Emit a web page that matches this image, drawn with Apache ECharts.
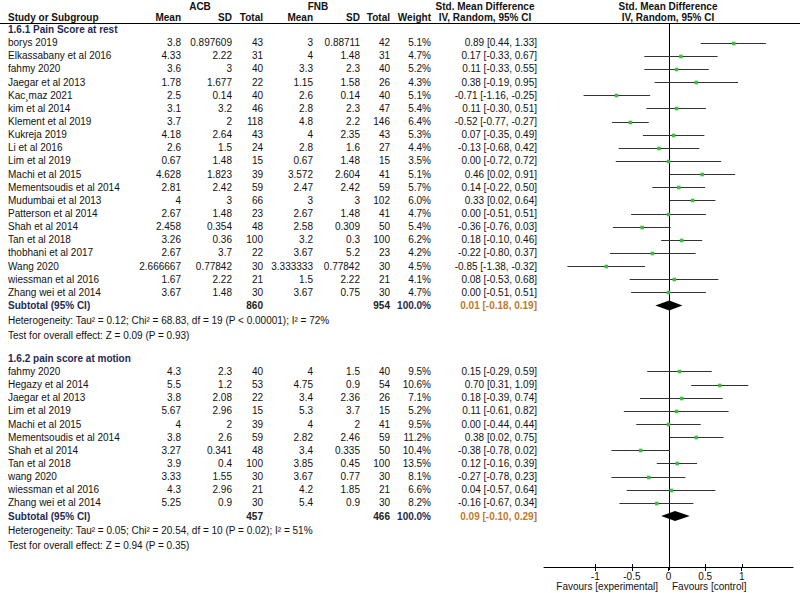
<!DOCTYPE html>
<html><head><meta charset="utf-8">
<script src="https://cdn.jsdelivr.net/npm/echarts@6/dist/echarts.min.js"></script>
<style>html,body{margin:0;padding:0;background:#fff}#c{width:800px;height:593px}</style>
</head><body><div id="c"></div>
<script>
// ---------- DATA ----------
var studies1 = ['borys 2019','Elkassabany et al 2016','fahmy 2020','Jaegar et al 2013','Kac\u00b8maz 2021','kim et al 2014','Klement et al 2019','Kukreja 2019','Li et al 2016','Lim et al 2019','Machi et al 2015','Mementsoudis et al 2014','Mudumbai et al 2013','Patterson et al 2014','Shah et al 2014','Tan et al 2018','thobhani et al 2017','Wang 2020','wiessman et al 2016','Zhang wei et al 2014'];
var acbMean1 = [3.8,4.33,3.6,1.78,2.5,3.1,3.7,4.18,2.6,0.67,4.628,2.81,4,2.67,2.458,3.26,2.67,2.666667,1.67,3.67];
var acbSD1 = [0.897609,2.22,3,1.677,0.14,3.2,2,2.64,1.5,1.48,1.823,2.42,3,1.48,0.354,0.36,3.7,0.77842,2.22,1.48];
var acbN1 = [43,31,40,22,40,46,118,43,24,15,39,59,66,23,48,100,22,30,21,30];
var fnbMean1 = [3,4,3.3,1.15,2.6,2.8,4.8,4,2.8,0.67,3.572,2.47,3,2.67,2.58,3.2,3.67,3.333333,1.5,3.67];
var fnbSD1 = [0.88711,1.48,2.3,1.58,0.14,2.3,2.2,2.35,1.6,1.48,2.604,2.42,3,1.48,0.309,0.3,5.2,0.77842,2.22,0.75];
var fnbN1 = [42,31,40,26,40,47,146,43,27,15,41,59,102,41,50,100,23,30,21,30];
var weight1 = [5.1,4.7,5.2,4.3,5.1,5.4,6.4,5.3,4.4,3.5,5.1,5.7,6.0,4.7,5.4,6.2,4.2,4.5,4.1,4.7];
var smd1 = [0.89,0.17,0.11,0.38,-0.71,0.11,-0.52,0.07,-0.13,0.00,0.46,0.14,0.33,0.00,-0.36,0.18,-0.22,-0.85,0.08,0.00];
var lo1 = [0.44,-0.33,-0.33,-0.19,-1.16,-0.30,-0.77,-0.35,-0.68,-0.72,0.02,-0.22,0.02,-0.51,-0.76,-0.10,-0.80,-1.38,-0.53,-0.51];
var hi1 = [1.33,0.67,0.55,0.95,-0.25,0.51,-0.27,0.49,0.42,0.72,0.91,0.50,0.64,0.51,0.03,0.46,0.37,-0.32,0.68,0.51];
var sub1 = {n1:860, n2:954, smd:0.01, lo:-0.18, hi:0.19};
var het1 = 'Heterogeneity: Tau\u00b2 = 0.12; Chi\u00b2 = 68.83, df = 19 (P < 0.00001); I\u00b2 = 72%';
var test1 = 'Test for overall effect: Z = 0.09 (P = 0.93)';

var studies2 = ['fahmy 2020','Hegazy et al 2014','Jaegar et al 2013','Lim et al 2019','Machi et al 2015','Mementsoudis et al 2014','Shah et al 2014','Tan et al 2018','wang 2020','wiessman et al 2016','Zhang wei et al 2014'];
var acbMean2 = [4.3,5.5,3.8,5.67,4,3.8,3.27,3.9,3.33,4.3,5.25];
var acbSD2 = [2.3,1.2,2.08,2.96,2,2.6,0.341,0.4,1.55,2.96,0.9];
var acbN2 = [40,53,22,15,39,59,48,100,30,21,30];
var fnbMean2 = [4,4.75,3.4,5.3,4,2.82,3.4,3.85,3.67,4.2,5.4];
var fnbSD2 = [1.5,0.9,2.36,3.7,2,2.46,0.335,0.45,0.77,1.85,0.9];
var fnbN2 = [40,54,26,15,41,59,50,100,30,21,30];
var weight2 = [9.5,10.6,7.1,5.2,9.5,11.2,10.4,13.5,8.1,6.6,8.2];
var smd2 = [0.15,0.70,0.18,0.11,0.00,0.38,-0.38,0.12,-0.27,0.04,-0.16];
var lo2 = [-0.29,0.31,-0.39,-0.61,-0.44,0.02,-0.78,-0.16,-0.78,-0.57,-0.67];
var hi2 = [0.59,1.09,0.74,0.82,0.44,0.75,0.02,0.39,0.23,0.64,0.34];
var sub2 = {n1:457, n2:466, smd:0.09, lo:-0.10, hi:0.29};
var het2 = 'Heterogeneity: Tau\u00b2 = 0.05; Chi\u00b2 = 20.54, df = 10 (P = 0.02); I\u00b2 = 51%';
var test2 = 'Test for overall effect: Z = 0.94 (P = 0.35)';

var section1 = '1.6.1 Pain Score at rest';
var section2 = '1.6.2 pain score at motion';
var xTicks = [-1,-0.5,0,0.5,1];
var favLeft = 'Favours [experimental]';
var favRight = 'Favours [control]';

// ---------- LAYOUT ----------
var ROW = 13.14, TOP = 23, AXB = 26, H = 593;
var tblMin = -TOP/ROW, tblMax = tblMin + H/ROW, plotMax = (H-TOP-AXB)/ROW;
var NAVY = '#1f2a55', ORANGE = '#c0782a', FONT = '"Liberation Sans", Arial, sans-serif';
var cols = {name:8, m1:181, sd1:232, n1:263, m2:313, sd2:360, n2:390, w:431, ci:537};

function ci(s,l,h){return s.toFixed(2)+' ['+l.toFixed(2)+', '+h.toFixed(2)+']';}

var texts = [];
function T(x,r,t,align,bold,color){texts.push({x:x,r:r,t:String(t),a:align||'right',b:!!bold,c:color||'#111'});}

// headers
var rH1 = (6.5-TOP)/ROW, rH2 = (17-TOP)/ROW;
T(200,rH1,'ACB','center',true); T(318,rH1,'FNB','center',true);
T(485,rH1,'Std. Mean Difference','center',true); T(668,rH1,'Std. Mean Difference','center',true);
T(cols.name,rH2,'Study or Subgroup','left',true);
T(cols.m1,rH2,'Mean','right',true); T(cols.sd1,rH2,'SD','right',true); T(cols.n1,rH2,'Total','right',true);
T(cols.m2,rH2,'Mean','right',true); T(cols.sd2,rH2,'SD','right',true); T(cols.n2,rH2,'Total','right',true);
T(cols.w,rH2,'Weight','right',true);
T(485,rH2,'IV, Random, 95% CI','center',true); T(668,rH2,'IV, Random, 95% CI','center',true);

var forest = []; // [smd, lo, hi, row]
var diamonds = [];
function section(start, title, st, am, as, an, fm, fs, fn, w, s, l, h, sub, het, test){
  T(cols.name, start, title, 'left', true, NAVY);
  for (var i=0;i<st.length;i++){
    var r = start + 0.97 + i;
    T(cols.name,r,st[i],'left'); T(cols.m1,r,am[i]); T(cols.sd1,r,as[i]); T(cols.n1,r,an[i]);
    T(cols.m2,r,fm[i]); T(cols.sd2,r,fs[i]); T(cols.n2,r,fn[i]);
    T(cols.w,r,w[i].toFixed(1)+'%'); T(cols.ci,r,ci(s[i],l[i],h[i]));
    forest.push([s[i],l[i],h[i],r]);
  }
  var rs = start + 0.97 + st.length;
  T(cols.name,rs,'Subtotal (95% CI)','left',true,NAVY);
  T(cols.n1,rs,sub.n1,'right',true,'#222'); T(cols.n2,rs,sub.n2,'right',true,'#222');
  T(cols.w,rs,'100.0%','right',true,NAVY); T(cols.ci,rs,ci(sub.smd,sub.lo,sub.hi),'right',true,ORANGE);
  diamonds.push([sub.smd,sub.lo,sub.hi,rs]);
  T(cols.name,rs+1.14,het,'left'); T(cols.name,rs+2.26,test,'left');
}
section(0.53, section1, studies1, acbMean1, acbSD1, acbN1, fnbMean1, fnbSD1, fnbN1, weight1, smd1, lo1, hi1, sub1, het1, test1);
section(25.55, section2, studies2, acbMean2, acbSD2, acbN2, fnbMean2, fnbSD2, fnbN2, weight2, smd2, lo2, hi2, sub2, het2, test2);
var rFav = (586.5-TOP)/ROW;
T(658,rFav,favLeft,'right'); T(672,rFav,favRight,'left');

var chart = echarts.init(document.getElementById('c'), null, {renderer:'svg'});
chart.setOption({
  animation:false,
  backgroundColor:'#fff',
  grid:[
    {left:544, right:7, top:TOP, bottom:AXB},
    {left:0, right:0, top:0, bottom:0}
  ],
  xAxis:[
    {gridIndex:0, type:'value', min:-1.7, max:1.7, position:'bottom',
     axisLine:{onZero:false, lineStyle:{color:'#000', width:1}},
     axisTick:{customValues:xTicks, length:4, lineStyle:{color:'#000'}},
     axisLabel:{customValues:xTicks, margin:4, color:'#111', fontSize:10, fontFamily:FONT, formatter:function(v){return String(v);}},
     splitLine:{show:false}},
    {gridIndex:1, type:'value', min:0, max:800, show:false}
  ],
  yAxis:[
    {gridIndex:0, type:'value', min:0, max:plotMax, inverse:true, show:false},
    {gridIndex:1, type:'value', min:tblMin, max:tblMax, inverse:true, show:false}
  ],
  series:[
    {type:'custom', xAxisIndex:1, yAxisIndex:1, silent:true, data:[[0,0]],
     renderItem:function(p,api){var a=api.coord([0,0]),b=api.coord([800,0]);
       return {type:'line', shape:{x1:a[0],y1:a[1]+0.5,x2:b[0],y2:b[1]+0.5}, style:{stroke:'#000',lineWidth:1}};}},
    {type:'custom', xAxisIndex:0, yAxisIndex:0, silent:true, data:[[0,0]],
     renderItem:function(p,api){var a=api.coord([0,0]),b=api.coord([0,plotMax]);
       var x=Math.round(a[0])+0.5;
       return {type:'line', shape:{x1:x,y1:a[1],x2:x,y2:b[1]+3}, style:{stroke:'#000',lineWidth:1}};}},
    // ticks crossing above the axis line (as in the reference)
    {type:'custom', xAxisIndex:0, yAxisIndex:0, silent:true, data:xTicks.map(function(v){return [v,plotMax];}),
     renderItem:function(p,api){var a=api.coord([api.value(0),api.value(1)]);
       var x=Math.round(a[0])+0.5;
       return {type:'line', shape:{x1:x,y1:a[1]-3,x2:x,y2:a[1]}, style:{stroke:'#000',lineWidth:1}};}},
    {type:'custom', xAxisIndex:0, yAxisIndex:0, silent:true, data:forest,
     renderItem:function(p,api){
       var c=api.coord([api.value(0),api.value(3)]), a=api.coord([api.value(1),api.value(3)]), b=api.coord([api.value(2),api.value(3)]);
       var y=Math.round(c[1])+0.5;
       return {type:'group', children:[
         {type:'line', shape:{x1:a[0],y1:y,x2:b[0],y2:y}, style:{stroke:'#333',lineWidth:1}},
         {type:'rect', shape:{x:c[0]-1.8,y:y-1.8,width:3.6,height:3.6}, style:{fill:'#3cbf3c'}}
       ]};}},
    {type:'custom', xAxisIndex:0, yAxisIndex:0, silent:true, data:diamonds,
     renderItem:function(p,api){
       var r=api.value(3);
       var c=api.coord([api.value(0),r]), a=api.coord([api.value(1),r]), b=api.coord([api.value(2),r]);
       return {type:'polygon', shape:{points:[[a[0],c[1]],[c[0],c[1]-5],[b[0],c[1]],[c[0],c[1]+5]]}, style:{fill:'#000'}};}},
    {type:'custom', xAxisIndex:1, yAxisIndex:1, silent:true, data:texts.map(function(d){return [d.x,d.r];}),
     renderItem:function(p,api){
       var d=texts[p.dataIndex]; var pt=api.coord([api.value(0),api.value(1)]);
       return {type:'text', x:pt[0], y:pt[1], style:{text:d.t, fill:d.c,
         font:(d.b?'bold ':'')+'10px '+FONT, textAlign:d.a, textVerticalAlign:'middle', align:d.a, verticalAlign:'middle'}};}}
  ]
});
</script></body></html>
